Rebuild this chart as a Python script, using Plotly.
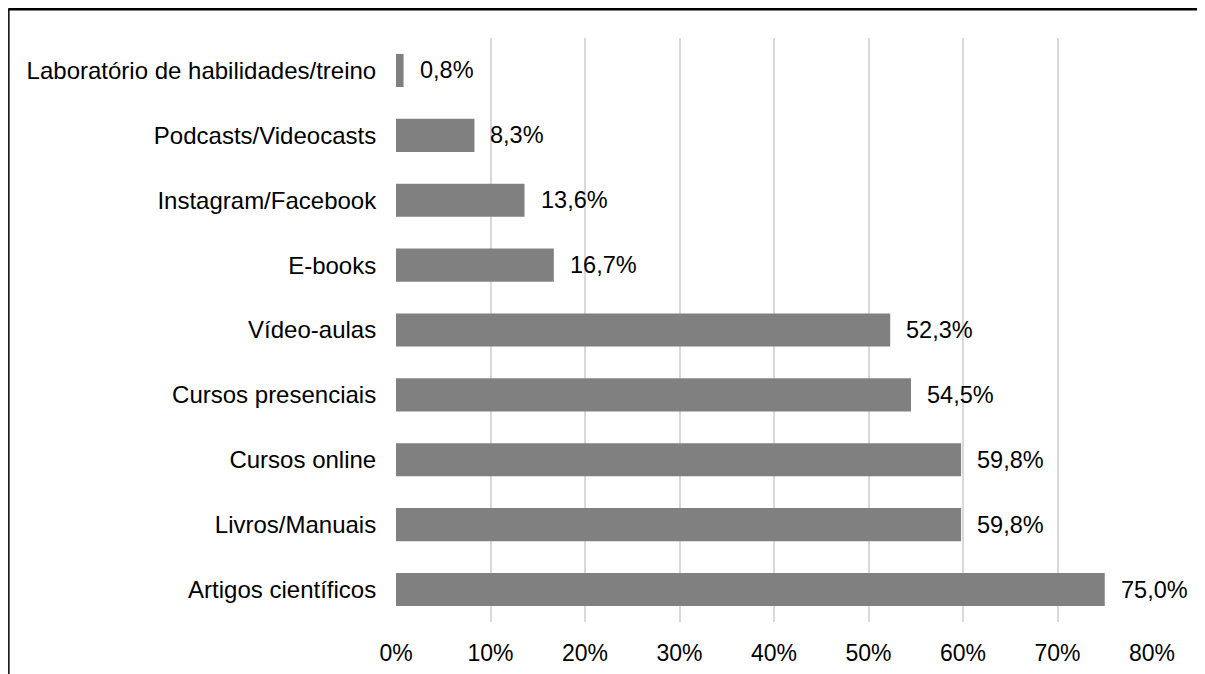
import plotly.graph_objects as go

categories = ["Artigos científicos", "Livros/Manuais", "Cursos online", "Cursos presenciais",
              "Vídeo-aulas", "E-books", "Instagram/Facebook", "Podcasts/Videocasts",
              "Laboratório de habilidades/treino"]
values = [75.0, 59.8, 59.8, 54.5, 52.3, 16.7, 13.6, 8.3, 0.8]
tick_vals = [0, 10, 20, 30, 40, 50, 60, 70, 80]
tick_text = ["0%", "10%", "20%", "30%", "40%", "50%", "60%", "70%", "80%"]
labels = [f"{v:.1f}".replace(".", ",") + "%" for v in values]

FONT = "Liberation Sans, Arial, sans-serif"

fig = go.Figure()
fig.add_trace(go.Bar(
    x=values, y=categories, orientation="h",
    marker=dict(color="#808080", line=dict(width=0)),
    width=0.51, hoverinfo="skip",
))

for v, c, t in zip(values, categories, labels):
    fig.add_annotation(x=v, y=c, text=t, showarrow=False, xanchor="left",
                       xshift=14, font=dict(family=FONT, size=23.5, color="#000000"))

W, H = 1197, 666
L, R, T, B = 388, 52.5, 30, 52
pw, ph = W - L - R, H - T - B

def px(x):
    return (x - L) / pw

def py(y):
    return (H - B - y) / ph

fig.add_shape(type="line", xref="paper", yref="paper", x0=px(0), x1=px(1197), y0=py(1.2), y1=py(1.2),
              line=dict(color="#000000", width=2.5))
fig.add_shape(type="line", xref="paper", yref="paper", x0=px(0.6), x1=px(0.6), y0=py(1), y1=py(680),
              line=dict(color="#000000", width=1.5))
fig.add_shape(type="line", xref="paper", yref="paper", x0=px(1195.5), x1=px(1195.5), y0=py(1), y1=py(680),
              line=dict(color="#000000", width=1))

fig.update_layout(
    width=W, height=H,
    margin=dict(l=L, r=R, t=T, b=B, pad=0, autoexpand=False),
    plot_bgcolor="#ffffff", paper_bgcolor="#ffffff",
    showlegend=False, bargap=0.49,
    font=dict(family=FONT, size=23, color="#000000"),
    xaxis=dict(range=[0, 80], tickvals=tick_vals, ticktext=tick_text, automargin=False,
               showgrid=True, gridcolor="#d9d9d9", gridwidth=1.5,
               zeroline=False, showline=False, ticks="outside", ticklen=10,
               tickcolor="rgba(0,0,0,0)", tickfont=dict(family=FONT, size=23, color="#000000"),
               fixedrange=True),
    yaxis=dict(categoryorder="array", categoryarray=categories, showgrid=False, automargin=False,
               zeroline=False, showline=False, ticks="outside", ticklen=14,
               tickcolor="rgba(0,0,0,0)", tickfont=dict(family=FONT, size=24, color="#000000"),
               fixedrange=True),
)

fig.write_html("out.html")
